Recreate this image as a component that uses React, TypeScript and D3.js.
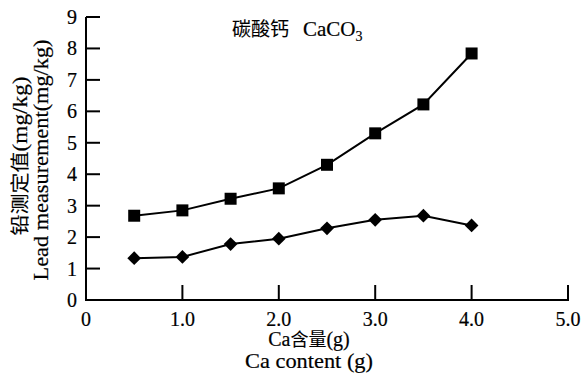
import { useEffect, useRef } from 'react';
import * as d3 from 'd3';

const calcium = [0.5, 1.0, 1.5, 2.0, 2.5, 3.0, 3.5, 4.0];
const squareSeries = [2.68, 2.85, 3.22, 3.55, 4.3, 5.3, 6.22, 7.84];
const diamondSeries = [1.33, 1.37, 1.78, 1.95, 2.28, 2.55, 2.68, 2.37];
const xTicks = [0, 1, 2, 3, 4, 5];
const yTicks = [0, 1, 2, 3, 4, 5, 6, 7, 8, 9];

const serif = '"Liberation Serif", "Times New Roman", serif';
const cjk = '"Noto Sans CJK SC", sans-serif';

const App = () => {
  const svgRef = useRef<SVGSVGElement>(null);

  useEffect(() => {
    const svg = d3.select(svgRef.current);
    svg.selectAll('*').remove();

    const x = d3.scaleLinear().domain([0, 5]).range([86, 568]);
    const y = d3.scaleLinear().domain([0, 9]).range([300, 17]);

    const g = svg.append('g');
    const txt = g.append('g')
      .attr('fill', '#000')
      .attr('stroke', '#000')
      .attr('stroke-width', 0.2);

    // axes lines
    g.append('line')
      .attr('x1', x(0) - 1).attr('x2', x(5) + 1)
      .attr('y1', y(0)).attr('y2', y(0))
      .attr('stroke', '#000').attr('stroke-width', 2);
    g.append('line')
      .attr('x1', x(0)).attr('x2', x(0))
      .attr('y1', y(0)).attr('y2', y(9))
      .attr('stroke', '#000').attr('stroke-width', 2);

    // y ticks (inward)
    yTicks.forEach(t => {
      if (t > 0) {
        g.append('line')
          .attr('x1', x(0)).attr('x2', x(0) + 14)
          .attr('y1', y(t)).attr('y2', y(t))
          .attr('stroke', '#000').attr('stroke-width', 2);
      }
      txt.append('text')
        .attr('x', x(0) - 9)
        .attr('y', y(t))
        .attr('dy', '0.35em')
        .attr('text-anchor', 'end')
        .attr('font-family', serif)
        .attr('font-size', 20)
        .text(t);
    });

    // x ticks (inward)
    xTicks.forEach(t => {
      if (t > 0) {
        g.append('line')
          .attr('x1', x(t)).attr('x2', x(t))
          .attr('y1', y(0)).attr('y2', y(0) - 15)
          .attr('stroke', '#000').attr('stroke-width', 2);
      }
      txt.append('text')
        .attr('x', x(t))
        .attr('y', 326)
        .attr('text-anchor', 'middle')
        .attr('font-family', serif)
        .attr('font-size', 20)
        .text(t === 0 ? '0' : t.toFixed(1));
    });

    // axis titles
    const xt = txt.append('text')
      .attr('x', 309).attr('y', 346)
      .attr('text-anchor', 'middle')
      .attr('font-family', serif)
      .attr('font-size', 20);
    xt.append('tspan').text('Ca');
    xt.append('tspan').attr('font-family', cjk).attr('font-size', 18).attr('stroke-width', 0.1).text('含量');
    xt.append('tspan').text('(g)');

    txt.append('text')
      .attr('x', 309).attr('y', 368)
      .attr('text-anchor', 'middle')
      .attr('font-family', serif)
      .attr('font-size', 21)
      .attr('textLength', 128)
      .attr('lengthAdjust', 'spacingAndGlyphs')
      .text('Ca content (g)');

    const yt1 = txt.append('text')
      .attr('transform', 'translate(27, 156) rotate(-90)')
      .attr('text-anchor', 'middle')
      .attr('font-family', serif)
      .attr('font-size', 21)
      .attr('textLength', 159)
      .attr('lengthAdjust', 'spacingAndGlyphs');
    yt1.append('tspan').attr('font-family', cjk).attr('font-size', 19).attr('stroke-width', 0.1).text('铅测定值');
    yt1.append('tspan').text('(mg/kg)');

    txt.append('text')
      .attr('transform', 'translate(48, 160) rotate(-90)')
      .attr('text-anchor', 'middle')
      .attr('font-family', serif)
      .attr('font-size', 21)
      .attr('textLength', 241)
      .attr('lengthAdjust', 'spacingAndGlyphs')
      .text('Lead measurement(mg/kg)');

    // annotation
    const ann = txt.append('text')
      .attr('x', 232).attr('y', 36)
      .attr('font-family', serif)
      .attr('font-size', 21);
    ann.append('tspan').attr('font-family', cjk).attr('font-size', 19).attr('stroke-width', 0.1).text('碳酸钙');
    ann.append('tspan').attr('dx', 14).text('CaCO');
    ann.append('tspan').attr('font-size', 14).attr('dy', 5).text('3');

    const line = d3.line<number>()
      .x((_, i) => x(calcium[i]))
      .y(d => y(d));

    g.append('path')
      .datum(squareSeries)
      .attr('d', line)
      .attr('fill', 'none')
      .attr('stroke', '#000')
      .attr('stroke-width', 2);

    g.append('path')
      .datum(diamondSeries)
      .attr('d', line)
      .attr('fill', 'none')
      .attr('stroke', '#000')
      .attr('stroke-width', 2);

    const sq = d3.symbol().type(d3.symbolSquare).size(144);
    g.selectAll('.sq')
      .data(squareSeries)
      .join('path')
      .attr('class', 'sq')
      .attr('d', sq)
      .attr('transform', (d, i) => `translate(${x(calcium[i])}, ${y(d)})`)
      .attr('fill', '#000');

    const dm = d3.symbol().type(d3.symbolDiamond2).size(120);
    g.selectAll('.dm')
      .data(diamondSeries)
      .join('path')
      .attr('class', 'dm')
      .attr('d', dm)
      .attr('transform', (d, i) => `translate(${x(calcium[i])}, ${y(d)})`)
      .attr('fill', '#000');
  }, []);

  return (
    <svg ref={svgRef} width={583} height={379} viewBox="0 0 583 379"
      style={{ position: 'absolute', left: 0, top: 0, background: '#fff' }} />
  );
};

export default App;
